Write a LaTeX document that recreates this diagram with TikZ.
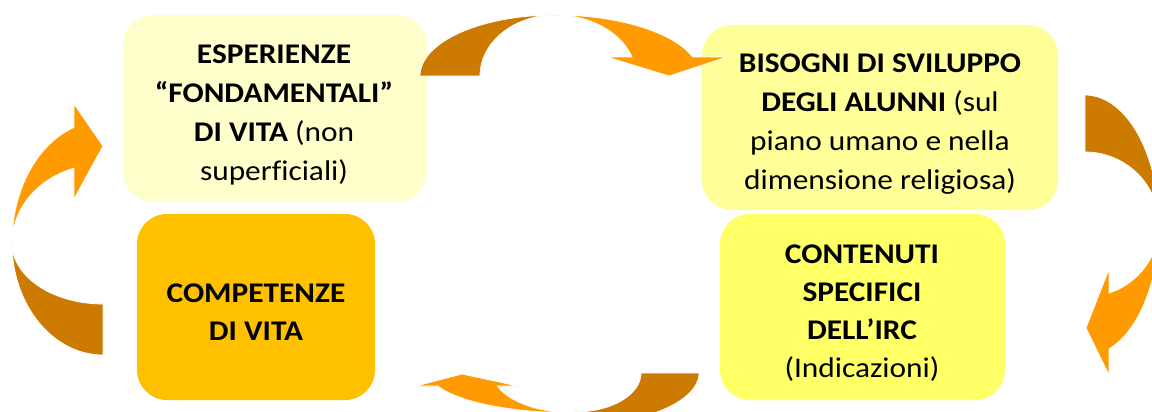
\documentclass[tikz,border=0pt]{standalone}
\usepackage{fontspec}
\setmainfont{Carlito}[FakeStretch=1.1,Ligatures=NoCommon]
\definecolor{boxA}{HTML}{FFFFCC}
\definecolor{boxB}{HTML}{FFFF99}
\definecolor{boxC}{HTML}{FFC000}
\definecolor{boxD}{HTML}{FFFF66}
\definecolor{arrdark}{HTML}{CC7A00}
\definecolor{arrlight}{HTML}{FF9A00}
\begin{document}
\begin{tikzpicture}[x=1pt,y=-1pt,
  box/.style={draw=none,rounded corners=30pt,inner sep=0pt},
  txt/.style={inner sep=0pt,align=center,anchor=north,text=black},
  toptxt/.style={txt,font={\fontsize{28.5}{39}\selectfont}},
  bottxt/.style={txt,font={\fontsize{28.5}{38.2}\selectfont}},
  darkarr/.style={fill=arrdark,draw=white,line width=0.8pt},
  lightarr/.style={fill=arrlight,draw=white,line width=0.8pt}]
\useasboundingbox (0,0) rectangle (1152,412);
\clip (0,0) rectangle (1152,412);
\fill[white] (0,0) rectangle (1152,412);
% boxes
\node[box,fill=boxA,minimum width=304pt,minimum height=187pt] (b1) at (275,108.5) {};
\node[box,fill=boxB,minimum width=356pt,minimum height=185pt] (b2) at (880,117.5) {};
\node[box,fill=boxC,minimum width=238pt,minimum height=186pt] (b3) at (256,307) {};
\node[box,fill=boxD,minimum width=285pt,minimum height=186pt] (b4) at (862.5,307) {};
% texts
\node[toptxt] (t1) at (274,45) {\textbf{ESPERIENZE}\\\textbf{“FONDAMENTALI”}\\\textbf{DI VITA} (non\\superficiali)};
\node[toptxt] (t2) at (880,53.7) {\textbf{BISOGNI DI SVILUPPO}\\\textbf{DEGLI ALUNNI} (sul\\piano umano e nella\\dimensione religiosa)};
\node[bottxt] (t3) at (256,283.5) {\textbf{COMPETENZE}\\\textbf{DI VITA}};
\node[bottxt] (t4) at (862,244.5) {\textbf{CONTENUTI}\\\textbf{SPECIFICI}\\\textbf{DELL’IRC}\\(Indicazioni)};
% top arrow
\path[darkarr] plot[domain=180:270,samples=40] ({555+135*cos(\x)},{76+61*sin(\x)})
  -- plot[domain=270:180,samples=40] ({555+75*cos(\x)},{76+61*sin(\x)}) -- cycle;
\path[lightarr] plot[domain=270:341.9,samples=40] ({555+145*cos(\x)},{76+61*sin(\x)})
  -- (727,57) -- (669,76) -- (607,57)
  -- plot[domain=341.9:270,samples=40] ({555+81*cos(\x)},{76+61*sin(\x)}) -- cycle;
% right arrow
\path[darkarr] plot[domain=270:360,samples=40] ({1085+74*cos(\x)},{225+130*sin(\x)})
  -- plot[domain=360:270,samples=40] ({1085+74*cos(\x)},{225+73*sin(\x)}) -- cycle;
\path[lightarr] plot[domain=0:71.1,samples=40] ({1085+74*cos(\x)},{225+131*sin(\x)})
  -- (1109,375) -- (1086,328) -- (1109,269)
  -- plot[domain=71.1:0,samples=40] ({1085+74*cos(\x)},{225+72*sin(\x)}) -- cycle;
% bottom arrow
\path[darkarr] plot[domain=0:90,samples=40] ({575+124*cos(\x)},{373+52*sin(\x)})
  -- plot[domain=90:0,samples=40] ({575+66*cos(\x)},{373+39*sin(\x)}) -- cycle;
\path[lightarr] (518,386) -- (462,374) -- (416,386)
  -- plot[domain=161:90,samples=40] ({575+145*cos(\x)},{373+40*sin(\x)})
  -- plot[domain=90:161,samples=40] ({575+82*cos(\x)},{373+40*sin(\x)}) -- cycle;
% left arrow
\path[darkarr] plot[domain=180:90,samples=40] ({103+91*cos(\x)},{243+112*sin(\x)})
  -- plot[domain=90:180,samples=40] ({103+91*cos(\x)},{243+61*sin(\x)}) -- cycle;
\path[lightarr] plot[domain=180:251.4,samples=40] ({103+91*cos(\x)},{243+122*sin(\x)})
  -- (74,104) -- (103,146) -- (74,199)
  -- plot[domain=251.4:180,samples=40] ({103+91*cos(\x)},{243+79*sin(\x)}) -- cycle;
\end{tikzpicture}
\end{document}
